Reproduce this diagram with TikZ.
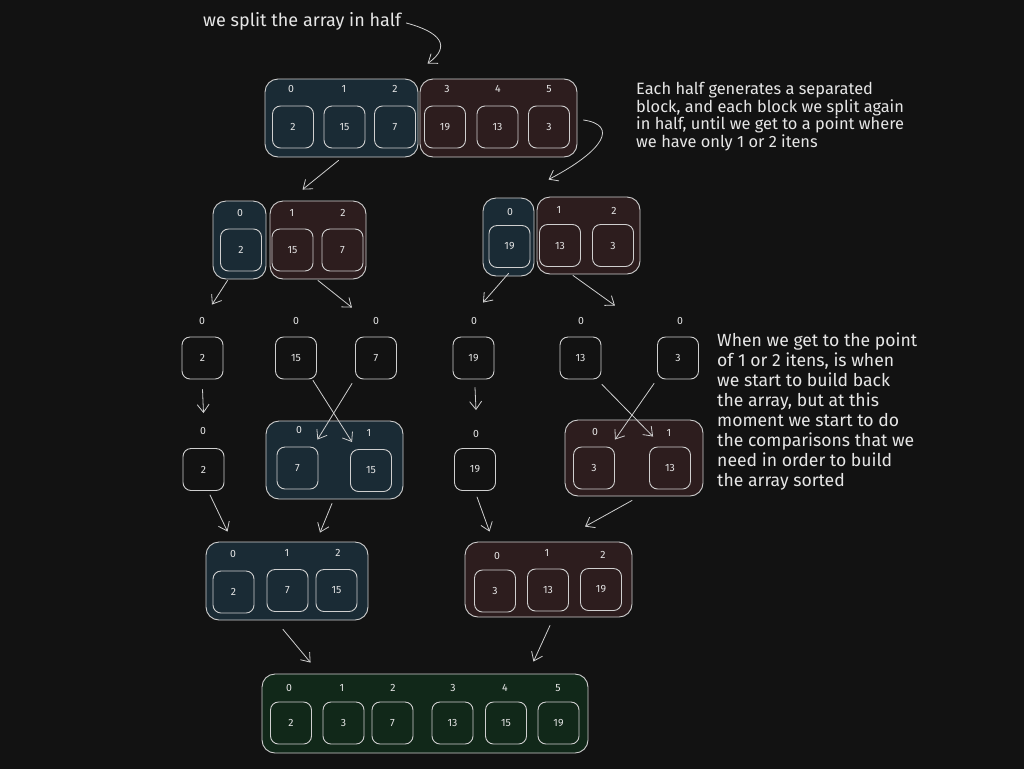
\documentclass[tikz,border=0pt]{standalone}
\usepackage{fontspec}
\setmainfont{Fira Sans}
\usetikzlibrary{arrows.meta,calc}
\definecolor{bg}{HTML}{121212}
\definecolor{stroke}{HTML}{CFCFCF}
\definecolor{ink}{HTML}{E6E6E6}
\definecolor{bluef}{HTML}{1A2B35}
\definecolor{redf}{HTML}{2D1D1E}
\definecolor{greenf}{HTML}{112819}
\begin{document}
\begin{tikzpicture}[x=1pt,y=-1pt,
  cell/.style={draw=stroke, line width=0.9pt, rounded corners=8pt, minimum width=41pt, minimum height=42pt, inner sep=0pt, text=ink, font=\fontsize{10.5}{12}\selectfont},
  blk/.style={draw=stroke, line width=0.9pt, rounded corners=13pt, inner sep=0pt},
  idx/.style={text=ink, inner sep=0pt, font=\fontsize{10.5}{12}\selectfont},
  note/.style={text=ink, inner sep=0pt, align=left, anchor=north west},
  arr/.style={draw=stroke, line width=0.8pt, line cap=round, -{Straight Barb[length=8pt,width=12pt]}}]
\useasboundingbox[fill=bg] (0,0) rectangle (1024,769);

% ---------- level 1 ----------
\node[blk, fill=bluef, minimum width=153pt, minimum height=78pt] (T1) at (341.5,118) {};
\node[blk, fill=redf, minimum width=157pt, minimum height=78pt] (T2) at (498.5,118) {};
\foreach \x/\l/\n in {291/0/a,344/1/b,395/2/c,447/3/d,498/4/e,549/5/f}
  \node[idx] (i1\n) at (\x,89) {\l};
\foreach \x/\v/\n in {293/2/a,344.5/15/b,395/7/c,445/19/d,497.5/13/e,549/3/f}
  \node[cell] (c1\n) at (\x,127) {\v};

% ---------- level 2 ----------
\node[blk, fill=bluef, minimum width=53pt, minimum height=78pt] (L2a) at (239.5,240) {};
\node[blk, fill=redf, minimum width=96pt, minimum height=78pt] (L2b) at (318,240) {};
\node[blk, fill=bluef, minimum width=51pt, minimum height=78pt] (R2a) at (508.5,237) {};
\node[blk, fill=redf, minimum width=103pt, minimum height=77pt] (R2b) at (588.5,235.5) {};
\foreach \x/\y/\l/\n in {240/213/0/a,292/213/1/b,343/213/2/c,510/212/0/d,559/210/1/e,614/211/2/f}
  \node[idx] (i2\n) at (\x,\y) {\l};
\foreach \x/\y/\v/\n in {241/250/2/a,292.5/250/15/b,342.5/250/7/c,509.5/246.5/19/d,560/245.5/13/e,613/245.5/3/f}
  \node[cell] (c2\n) at (\x,\y) {\v};

% ---------- level 3 ----------
\foreach \x/\n in {202/a,296/b,376/c,474/d,581/e,680/f}
  \node[idx] (i3\n) at (\x,321) {0};
\foreach \x/\v/\n in {202.5/2/a,296/15/b,376/7/c,473.5/19/d,580.5/13/e,678/3/f}
  \node[cell] (c3\n) at (\x,358) {\v};

% ---------- level 4 ----------
\node[blk, fill=bluef, minimum width=137pt, minimum height=78pt] (B4) at (334.5,460) {};
\node[blk, fill=redf, minimum width=138pt, minimum height=76pt] (R4) at (634,458) {};
\foreach \x/\y/\l/\n in {203/431/0/a,299/430/0/b,369/433/1/c,476/434/0/d,595/432/0/e,669/433/1/f}
  \node[idx] (i4\n) at (\x,\y) {\l};
\node[cell] (c4a) at (203.5,469.5) {2};
\node[cell] (c4b) at (297.5,468) {7};
\node[cell] (c4c) at (371,470.5) {15};
\node[cell] (c4d) at (475,469.5) {19};
\node[cell] (c4e) at (594,468) {3};
\node[cell] (c4f) at (670,468) {13};

% ---------- level 5 ----------
\node[blk, fill=bluef, minimum width=162pt, minimum height=78pt] (B5) at (287,581) {};
\node[blk, fill=redf, minimum width=167pt, minimum height=75pt] (R5) at (548.5,579.5) {};
\foreach \x/\y/\l/\n in {233/554/0/a,287/553/1/b,338/553/2/c,497/556/0/d,547/553/1/e,603/555/2/f}
  \node[idx] (i5\n) at (\x,\y) {\l};
\foreach \x/\y/\v/\n in {233.5/592/2/a,287.5/590.5/7/b,336.5/590.5/15/c,495/591/3/d,548/590/13/e,601/589.5/19/f}
  \node[cell] (c5\n) at (\x,\y) {\v};

% ---------- level 6 ----------
\node[blk, fill=greenf, minimum width=326pt, minimum height=79pt] (G6) at (425,713.5) {};
\foreach \x/\l/\n in {289/0/a,342/1/b,393/2/c,453/3/d,505/4/e,558/5/f}
  \node[idx] (i6\n) at (\x,688) {\l};
\foreach \x/\v/\n in {291/2/a,343.5/3/b,392.5/7/c,452.5/13/d,506/15/e,558.5/19/f}
  \node[cell] (c6\n) at (\x,723) {\v};

% ---------- notes ----------
\node[text=ink, inner sep=0pt, anchor=west, font=\fontsize{18}{20}\selectfont] (n1) at (203,21) {we split the array in half};
\node[note, font=\fontsize{16.4}{17.6}\selectfont] (n2) at (636,82) {Each half generates a separated\\block, and each block we split again\\in half, until we get to a point where\\we have only 1 or 2 itens};
\node[note, font=\fontsize{17.6}{20}\selectfont] (n3) at (717,333) {When we get to the point\\of 1 or 2 itens, is when\\we start to build back\\the array, but at this\\moment we start to do\\the comparisons that we\\need in order to build\\the array sorted};

% ---------- connectors ----------
\draw[arr] ($(n1.east)+(5,2)$) .. controls (440,32) and (452,46) .. ($(T2.north west)+(8,-15)$);
\draw[arr] ($(T2.east)+(6,2)$) .. controls (618,125) and (605,150) .. ($(R2b.north)+(-40,-17)$);
\draw[arr] ($(T1.south)+(-3,3)$) -- ($(L2b.north west)+(33,-11)$);
\draw[arr] ($(L2a.south)+(-12,1)$) -- ($(c3a.north)+(9.5,-32)$);
\draw[arr] ($(L2b.south)+(0,1)$) -- ($(c3c.north)+(-24,-29)$);
\draw[arr] ($(R2a.south)+(0,-3)$) -- ($(c3d.north)+(9.5,-34)$);
\draw[arr] ($(R2b.south)+(-15.5,1)$) -- ($(c3e.north east)+(13.5,-31)$);
\draw[arr] ($(c3a.south)+(0,10)$) -- ($(c4a.north)+(0,-35)$);
\draw[arr] ($(c3b.south)+(17,1)$) -- ($(c4c.north west)+(2,-7)$);
\draw[arr] ($(c3c.south)+(-24,4)$) -- ($(c4b.north east)+(-1,-7)$);
\draw[arr] ($(c3d.south)+(1.5,8)$) -- ($(c4d.north)+(1,-38)$);
\draw[arr] ($(c3e.south east)+(0.5,5)$) -- ($(c4f.north west)+(4,-10)$);
\draw[arr] ($(c3f.south west)+(-3,4)$) -- ($(c4e.north east)+(0,-7)$);
\draw[arr] ($(c4a.south)+(6.5,4)$) -- ($(B5.north west)+(22,-10)$);
\draw[arr] ($(B4.south)+(-2.5,4)$) -- ($(B5.north)+(33,-9)$);
\draw[arr] ($(c4d.south)+(2,6)$) -- ($(R5.north west)+(25,-10)$);
\draw[arr] ($(R4.south)+(-2,4)$) -- ($(R5.north)+(36.5,-15)$);
\draw[arr] ($(B5.south)+(-4,9)$) -- ($(G6.north west)+(49,-11)$);
\draw[arr] ($(R5.south)+(1.5,8)$) -- ($(G6.north east)+(-55,-12)$);
\end{tikzpicture}
\end{document}
